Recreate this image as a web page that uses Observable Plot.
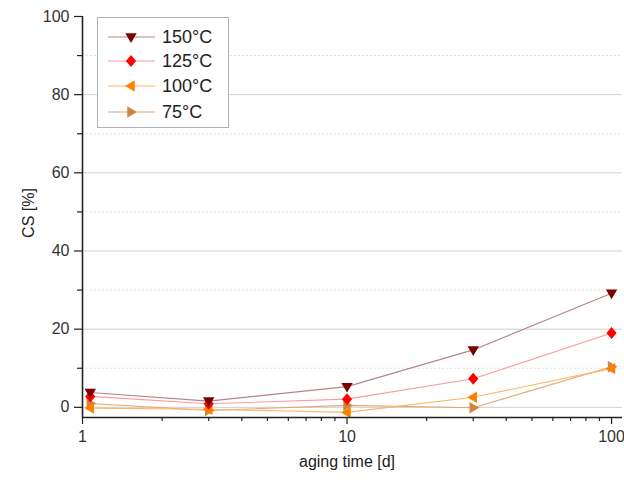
<!DOCTYPE html>
<html><head><meta charset="utf-8">
<script src="https://cdn.jsdelivr.net/npm/d3@7"></script>
<script src="https://cdn.jsdelivr.net/npm/@observablehq/plot@0.6"></script>
<style>
body{margin:0;background:#fff;font-family:"Liberation Sans",Arial,sans-serif}
#wrap{position:relative;width:624px;height:484px}
#legend{position:absolute;left:97px;top:17px;width:130px;height:109px;border:1.5px solid #b0b0b0;background:#fff}
</style>
</head><body><div id="wrap"><div id="legend"></div></div>
<script>
// ---- data ----
const days = [1.07, 3, 10, 30, 100];
const cs150 = [3.8, 1.6, 5.3, 14.7, 29.2];
const cs125 = [2.8, 0.9, 2.1, 7.3, 19.0];
const cs100 = [-0.2, -0.5, -1.3, 2.6, 9.9];
const cs75  = [1.0, -0.8, 0.5, -0.1, 10.4];
const seriesNames = ["150°C", "125°C", "100°C", "75°C"];
const yTicks = [0, 20, 40, 60, 80, 100];
const yMinor = [10, 30, 50, 70, 90];
const xTicks = [1, 10, 100];
const xMinor = [2, 3, 4, 5, 6, 7, 8, 9, 20, 30, 40, 50, 60, 70, 80, 90];

// ---- styles ----
const markerColors = ["#7a0000", "#ff0000", "#ff8000", "#cd853f"];
const lineColors = ["#b88484", "#ff9a9a", "#ffb566", "#e0a878"];
const shapeFns = [
  (c, R) => { c.moveTo(0, R); c.lineTo(-R * 0.95, -R * 0.62); c.lineTo(R * 0.95, -R * 0.62); c.closePath(); },
  (c, R) => { c.moveTo(0, -R); c.lineTo(R * 0.85, 0); c.lineTo(0, R); c.lineTo(-R * 0.85, 0); c.closePath(); },
  (c, R) => { c.moveTo(-R, 0); c.lineTo(R * 0.62, -R * 0.95); c.lineTo(R * 0.62, R * 0.95); c.closePath(); },
  (c, R) => { c.moveTo(R, 0); c.lineTo(-R * 0.62, -R * 0.95); c.lineTo(-R * 0.62, R * 0.95); c.closePath(); }
];
const R = 6;
const symbols = shapeFns.map(f => ({draw(c) { f(c, R); }}));

const allSeries = [cs150, cs125, cs100, cs75];
const rows = allSeries.map((vals, i) => days.map((d, j) => ({day: d, cs: vals[j], s: seriesNames[i]})));

const yMin = -2.6;
const marks = [
  Plot.ruleY([0, 20, 40, 60, 80], {stroke: "#cfcfcf", strokeWidth: 1}),
  Plot.ruleY(yMinor, {stroke: "#d6d6d6", strokeWidth: 1, strokeDasharray: "1.5,2.5"}),
];
// lines (bottom to top: 75, 100, 125, 150)
for (let i = 3; i >= 0; i--) {
  marks.push(Plot.line(rows[i], {x: "day", y: "cs", stroke: lineColors[i], strokeWidth: 1.1}));
}
for (let i = 3; i >= 0; i--) {
  marks.push(Plot.dot(rows[i], {x: "day", y: "cs", symbol: symbols[i], fill: markerColors[i], stroke: "none", r: R}));
}
marks.push(
  Plot.axisY({ticks: yMinor, tickSize: 5, tickFormat: () => "", stroke: "#222", strokeWidth: 1.2, label: null}),
  Plot.axisY({ticks: yTicks, tickSize: 8, tickPadding: 5, fontSize: 16, stroke: "#222", strokeWidth: 1.2, label: null, fill: "#333"}),
  Plot.axisX({ticks: xMinor, tickSize: 4, tickFormat: () => "", stroke: "#222", strokeWidth: 1.2, label: null}),
  Plot.axisX({ticks: xTicks, tickSize: 7, tickPadding: 6, fontSize: 16, tickFormat: d => String(d), stroke: "#222", strokeWidth: 1.2, label: null, fill: "#333"}),
  Plot.ruleX([1], {y1: yMin, y2: 100, stroke: "#222", strokeWidth: 1.6}),
  Plot.ruleY([yMin], {stroke: "#222", strokeWidth: 1.6}),
  Plot.text(["CS [%]"], {text: d => d, frameAnchor: "left", textAnchor: "middle", dx: -54, dy: -4, rotate: -90, fontSize: 16, fill: "#222"}),
  Plot.text([10], {x: d => d, text: () => "aging time [d]", frameAnchor: "bottom", textAnchor: "middle", dy: 49, fontSize: 16, fill: "#222"})
);

const chart = Plot.plot({
  width: 624,
  height: 484,
  marginLeft: 82,
  marginRight: 2,
  marginTop: 16,
  marginBottom: 67,
  style: {fontFamily: "'Liberation Sans', Arial, sans-serif", fontSize: "16px", background: "#fff", overflow: "visible"},
  x: {type: "log", domain: [1, 110]},
  y: {domain: [yMin, 100]},
  marks
});
document.getElementById("wrap").prepend(chart);

// ---- legend ----
const ns = "http://www.w3.org/2000/svg";
const lsvg = document.createElementNS(ns, "svg");
lsvg.setAttribute("width", 130);
lsvg.setAttribute("height", 109);
const rowY = [19, 43, 68, 94];
seriesNames.forEach((name, i) => {
  const line = document.createElementNS(ns, "line");
  line.setAttribute("x1", 10); line.setAttribute("x2", 57);
  line.setAttribute("y1", rowY[i]); line.setAttribute("y2", rowY[i]);
  line.setAttribute("stroke", lineColors[i]); line.setAttribute("stroke-width", 1.2);
  lsvg.appendChild(line);
  const p = d3.path();
  shapeFns[i](p, R);
  const path = document.createElementNS(ns, "path");
  path.setAttribute("d", p.toString());
  path.setAttribute("transform", `translate(33,${rowY[i]})`);
  path.setAttribute("fill", markerColors[i]);
  lsvg.appendChild(path);
  const t = document.createElementNS(ns, "text");
  t.setAttribute("x", 64); t.setAttribute("y", rowY[i]);
  t.setAttribute("dy", "0.36em");
  t.setAttribute("font-size", 18);
  t.setAttribute("fill", "#222");
  t.setAttribute("font-family", "'Liberation Sans', Arial, sans-serif");
  t.textContent = name;
  lsvg.appendChild(t);
});
document.getElementById("legend").appendChild(lsvg);
</script>
</body></html>
